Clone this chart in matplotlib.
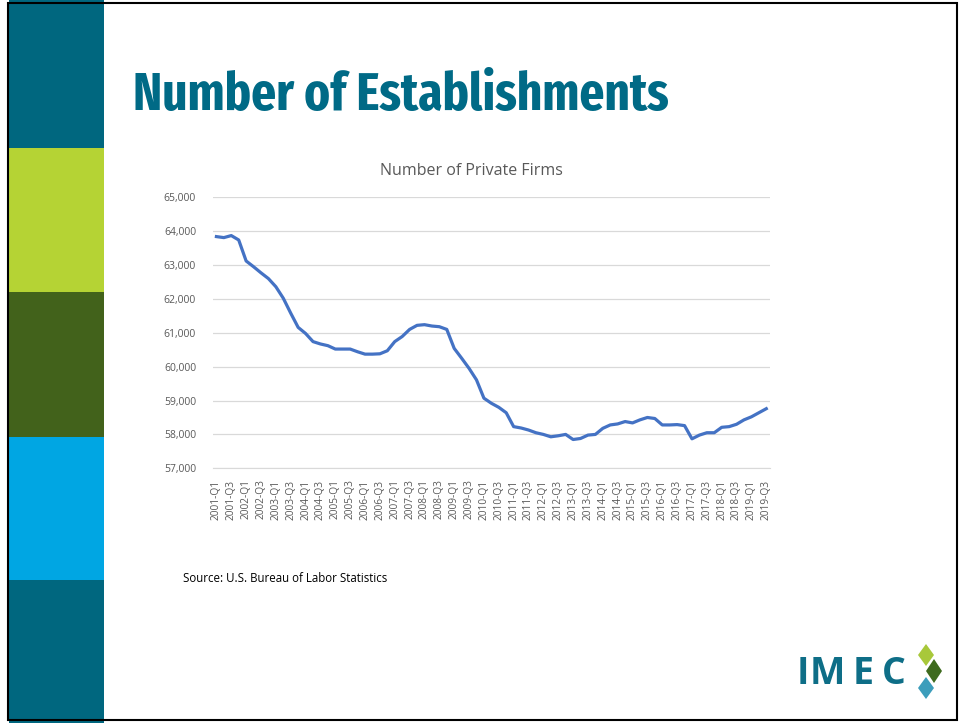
import numpy as np
import matplotlib
matplotlib.use("Agg")
from matplotlib import pyplot as plt
from matplotlib import font_manager as fm
from matplotlib.patches import Rectangle, Polygon

# quarterly data, 2001-Q1 .. 2019-Q3
years = range(2001, 2020)
quarters = [f"{y}-Q{q}" for y in years for q in range(1, 5)][:75]
firms = [
    63840, 63810, 63870, 63740, 63120, 62950, 62770, 62600, 62360, 62020,
    61580, 61160, 60980, 60740, 60670, 60620, 60520, 60520, 60520, 60440,
    60370, 60370, 60380, 60470, 60740, 60890, 61100, 61220, 61240, 61200,
    61180, 61100, 60540, 60250, 59950, 59610, 59070, 58920, 58800, 58640,
    58230, 58190, 58130, 58050, 58000, 57930, 57960, 58000, 57850, 57880,
    57980, 58000, 58180, 58280, 58310, 58380, 58340, 58430, 58500, 58470,
    58280, 58280, 58290, 58260, 57870, 57980, 58050, 58050, 58210, 58230,
    58300, 58430, 58520, 58640, 58760,
]
y_ticks = list(range(57000, 65001, 1000))

title = "Number of Establishments"
chart_title = "Number of Private Firms"
source = "Source: U.S. Bureau of Labor Statistics"

teal = "#00677F"
lime = "#B5D334"
dkgreen = "#42621B"
blue = "#00A6E3"
line_col = "#4472C4"
body_font = ["Open Sans", "DejaVu Sans"]


def pick_condensed_bold():
    # look for a narrow bold face among the installed fonts
    best = None
    for f in fm.fontManager.ttflist:
        w = f.weight if isinstance(f.weight, int) else 700 if "bold" in str(f.weight) else 400
        if f.stretch == "condensed" and w >= 600 and f.style == "normal":
            score = ("ExtraCondensed" in f.fname) * 2 + ("Noto" in f.fname) + (w == 700)
            if best is None or score > best[0]:
                best = (score, f.fname)
    if best:
        return fm.FontProperties(fname=best[1])
    return fm.FontProperties(family="DejaVu Sans", weight="bold")


W, H = 960, 723
fig = plt.figure(figsize=(W / 100, H / 100), dpi=100)

# background layer in pixel coords
bg = fig.add_axes([0, 0, 1, 1])
bg.set_xlim(0, W)
bg.set_ylim(H, 0)
bg.axis("off")

# left colour bars
for (y0, y1, c) in [(0, 148, teal), (148, 292, lime), (292, 437, dkgreen),
                    (437, 580, blue), (580, 723, teal)]:
    bg.add_patch(Rectangle((9, y0), 95, y1 - y0, color=c, lw=0))
# slide frame
bg.add_patch(Rectangle((8, 3), 949, 717, fill=False, ec="black", lw=1.5))

# title: fit its width to the slide heading
tprop = pick_condensed_bold()
tprop.set_size(36)
t = bg.text(133, 110, title, color="#006A86", fontproperties=tprop,
            ha="left", va="baseline")
r = fig.canvas.get_renderer()
wpx = t.get_window_extent(r).width
tprop.set_size(min(36 * 535 / wpx, 44))
t.set_fontproperties(tprop)

bg.text(183, 578, source, fontsize=8.3, family=body_font,
        ha="left", va="center", color="black")

# IMEC logo
for ch, lx in zip("IMEC", [797, 810, 853, 882]):
    bg.text(lx, 684, ch, color="#0E6E87", fontsize=27, fontweight="bold",
            family=body_font, ha="left", va="baseline")
def diamond(cx, cy, hw, hh, c):
    bg.add_patch(Polygon([(cx, cy - hh), (cx + hw, cy), (cx, cy + hh), (cx - hw, cy)],
                         closed=True, color=c, lw=0))
diamond(926, 655, 8, 11, "#A8C83A")
diamond(934, 671, 8, 12, "#3E6A1E")
diamond(926, 688, 8, 11, "#3C9DBB")

bg.text(471, 171, chart_title, fontsize=11.5, color="#595959",
        family=body_font, ha="center", va="center")

# chart
ax = fig.add_axes([212.7 / W, 1 - 468.3 / H, (770 - 212.7) / W, (468.3 - 197.3) / H])
x = np.arange(len(quarters))
ax.plot(x, firms, color=line_col, lw=2.3, solid_joinstyle="round")
ax.set_xlim(-0.5, len(quarters) - 0.5)
ax.set_ylim(57000, 65000)
ax.set_yticks(y_ticks)
ax.set_yticklabels([f"{v:,}" for v in y_ticks], fontsize=7.5,
                   family=body_font, color="#595959")
ax.set_xticks(x[::2])
ax.set_xticklabels(quarters[::2], rotation=90, fontsize=7.3,
                   family=body_font, color="#595959")
ax.tick_params(length=0, pad=8)
ax.tick_params(axis="y", pad=12)
ax.grid(axis="y", color="#D9D9D9", lw=0.9)
ax.set_axisbelow(True)
for s in ["top", "right", "left"]:
    ax.spines[s].set_visible(False)
ax.spines["bottom"].set_color("#D9D9D9")
ax.patch.set_alpha(0)

fig.savefig("out.png", dpi=100)
